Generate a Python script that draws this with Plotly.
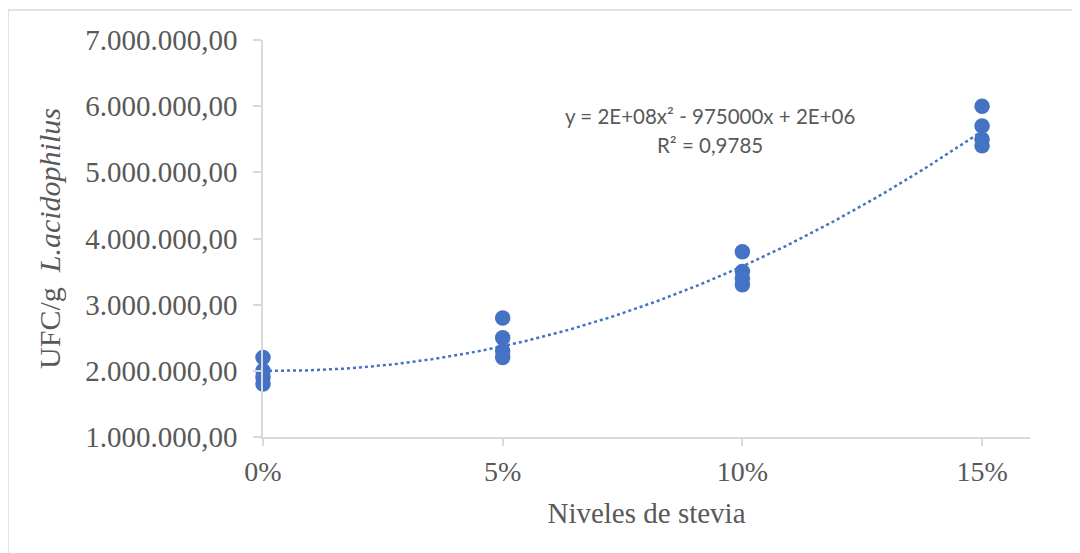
import numpy as np
import plotly.graph_objects as go

# ---- data ----
stevia_levels = [0.0, 0.0, 0.0, 0.0, 0.05, 0.05, 0.05, 0.05, 0.10, 0.10, 0.10, 0.10, 0.15, 0.15, 0.15, 0.15]
ufc_values = [2200000, 2000000, 1900000, 1800000,
              2800000, 2500000, 2300000, 2200000,
              3800000, 3500000, 3400000, 3300000,
              6000000, 5700000, 5500000, 5400000]
x_tickvals = [0.0, 0.05, 0.10, 0.15]
x_ticktext = ["0%", "5%", "10%", "15%"]
y_tickvals = [1000000, 2000000, 3000000, 4000000, 5000000, 6000000, 7000000]
y_ticktext = ["1.000.000,00", "2.000.000,00", "3.000.000,00", "4.000.000,00",
              "5.000.000,00", "6.000.000,00", "7.000.000,00"]
equation_text = "y = 2E+08x² - 975000x + 2E+06"
r2_text = "R² = 0,9785"

# polynomial trendline (order 2) fitted from the data
coef = np.polyfit(stevia_levels, ufc_values, 2)
xs = np.linspace(min(stevia_levels), max(stevia_levels), 200)
ys = np.polyval(coef, xs)

blue = "#4472C4"
grey_txt = "#595959"
axis_col = "#d9d9d9"
serif = "Liberation Serif, Times New Roman, serif"

# page offset of the figure (body margin)
OFF = 8
L, T = 263 - OFF, 40 - OFF
PW, PH = 767, 397

fig = go.Figure()
fig.add_trace(go.Scatter(x=xs, y=ys, mode="lines",
                         line=dict(color=blue, width=2.5, dash="dot"),
                         hoverinfo="skip", showlegend=False))
fig.add_trace(go.Scatter(x=stevia_levels, y=ufc_values, mode="markers",
                         marker=dict(color=blue, size=15.5), cliponaxis=False,
                         showlegend=False))

fig.update_layout(
    width=1072, height=545,
    margin=dict(l=L, r=1072 - L - PW, t=T, b=545 - T - PH, pad=0),
    paper_bgcolor="white", plot_bgcolor="white",
    font=dict(family=serif, color=grey_txt),
    xaxis=dict(range=[0, 0.16], tickvals=x_tickvals, ticktext=x_ticktext,
               showgrid=False, zeroline=False, showline=True, linecolor=axis_col, linewidth=1.5,
               ticks="outside", ticklen=7, tickcolor=axis_col, tickwidth=1.5,
               ticklabelstandoff=2,
               tickfont=dict(family=serif, size=28, color=grey_txt),
               title=dict(text="Niveles de stevia", font=dict(family=serif, size=29, color=grey_txt),
                          standoff=16)),
    yaxis=dict(range=[1000000, 7000000], tickvals=y_tickvals, ticktext=y_ticktext,
               showgrid=False, zeroline=False, showline=True, linecolor=axis_col, linewidth=1.5,
               ticks="outside", ticklen=8, tickcolor=axis_col, tickwidth=1.5,
               ticklabelstandoff=10,
               tickfont=dict(family=serif, size=29, color=grey_txt),
               title=dict(text="UFC/g&nbsp; <i>L.acidophilus</i>",
                          font=dict(family=serif, size=30, color=grey_txt), standoff=16)),
)

eq_font = dict(family="Lato, Open Sans, sans-serif", size=20.5, color=grey_txt)
fig.add_annotation(x=(710 - 263) / PW, y=(437 - 116) / PH, xref="paper", yref="paper",
                   text=equation_text, showarrow=False, font=eq_font,
                   xanchor="center", yanchor="middle")
fig.add_annotation(x=(710 - 263) / PW, y=(437 - 145) / PH, xref="paper", yref="paper",
                   text=r2_text, showarrow=False, font=eq_font,
                   xanchor="center", yanchor="middle")

# outer chart border
fig.add_shape(type="rect", xref="paper", yref="paper",
              x0=(8 - 263) / PW, x1=(1095 - 263) / PW,
              y0=(437 - 570) / PH, y1=(437 - 10) / PH,
              line=dict(color=axis_col, width=1.5), layer="below")

fig.write_html("out.html")
